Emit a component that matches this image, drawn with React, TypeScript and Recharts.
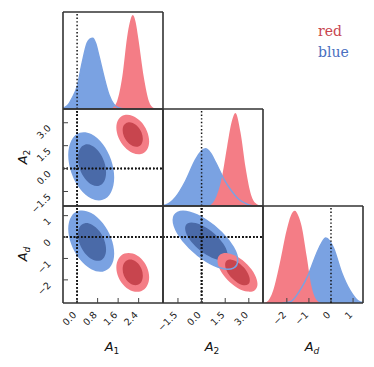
import React from 'react';
import { ComposedChart, XAxis, YAxis, Area, Scatter, Curve } from 'recharts';

const BLUE = '#7aa2e2';
const BLUE_DARK = '#4a6aa8';
const RED = '#f47d86';
const RED_DARK = '#c8454e';
const FRAME = '#333333';

// parameter ranges, ticks and tick labels
const A1_DOMAIN = [-0.55, 3.35];
const A2_DOMAIN = [-2.45, 3.9];
const AD_DOMAIN = [-3.08, 1.45];
const A1_TICKS = [0, 0.8, 1.6, 2.4];
const A2_TICKS = [-1.5, 0, 1.5, 3];
const AD_TICKS = [-2, -1, 0, 1];
const A1_LABELS = ['0.0', '0.8', '1.6', '2.4'];
const A2_LABELS = ['\u22121.5', '0.0', '1.5', '3.0'];
const AD_LABELS = ['\u22122', '\u22121', '0', '1'];

// 1D marginals: [value, relative density]
const a1Blue = [[-0.55, 0.01], [-0.46, 0.02], [-0.33, 0.05], [-0.2, 0.11], [0.0, 0.23], [0.2, 0.48], [0.39, 0.68], [0.5, 0.72], [0.61, 0.73], [0.72, 0.68], [0.85, 0.55], [1.04, 0.34], [1.24, 0.15], [1.43, 0.05], [1.63, 0.01], [1.85, 0]];
const a1Red = [[1.2, 0], [1.37, 0.01], [1.56, 0.08], [1.76, 0.33], [1.95, 0.74], [2.06, 0.9], [2.17, 0.97], [2.28, 0.9], [2.38, 0.74], [2.6, 0.33], [2.8, 0.08], [2.99, 0.01], [3.19, 0]];
const a2Blue = [[-2.45, 0.005], [-2.28, 0.01], [-1.65, 0.09], [-1.01, 0.26], [-0.38, 0.48], [-0.05, 0.56], [0.25, 0.59], [0.55, 0.55], [0.89, 0.45], [1.41, 0.28], [1.84, 0.17], [2.36, 0.07], [2.89, 0.02], [3.3, 0]];
const a2Red = [[0.4, 0], [0.57, 0.01], [0.99, 0.12], [1.31, 0.31], [1.62, 0.61], [1.9, 0.86], [2.15, 0.96], [2.47, 0.76], [2.79, 0.4], [3.1, 0.14], [3.42, 0.03], [3.8, 0]];
const adBlue = [[-2.2, 0], [-1.86, 0.01], [-1.41, 0.13], [-1.03, 0.29], [-0.65, 0.51], [-0.42, 0.62], [-0.24, 0.67], [-0.06, 0.64], [0.11, 0.57], [0.49, 0.31], [0.86, 0.13], [1.32, 0.01], [1.45, 0.005]];
const adRed = [[-3.08, 0], [-2.92, 0.01], [-2.62, 0.13], [-2.32, 0.41], [-2.01, 0.75], [-1.82, 0.9], [-1.64, 0.95], [-1.48, 0.9], [-1.33, 0.79], [-1.1, 0.48], [-0.88, 0.17], [-0.65, 0.03], [-0.45, 0]];

// 2D contours (outer = 95%, inner = 68%), vertices in data units
const a1a2BlueOuter = [[1.49, -0.62], [1.36, 0.59], [1.02, 1.68], [0.55, 2.36], [0.08, 2.45], [-0.26, 1.92], [-0.39, 0.92], [-0.26, -0.29], [0.08, -1.38], [0.55, -2.06], [1.02, -2.15], [1.36, -1.62]];
const a1a2BlueInner = [[1.155, -0.28], [1.08, 0.46], [0.87, 1.13], [0.58, 1.56], [0.29, 1.63], [0.08, 1.32], [0.005, 0.72], [0.08, -0.02], [0.29, -0.69], [0.58, -1.12], [0.87, -1.19], [1.08, -0.88]];
const a1a2RedOuter = [[2.84, 1.75], [2.75, 2.46], [2.51, 3.1], [2.17, 3.5], [1.84, 3.57], [1.59, 3.28], [1.5, 2.71], [1.59, 2.0], [1.84, 1.37], [2.17, 0.96], [2.51, 0.89], [2.75, 1.18]];
const a1a2RedInner = [[2.58, 1.94], [2.53, 2.37], [2.38, 2.77], [2.17, 3.02], [1.97, 3.06], [1.81, 2.88], [1.76, 2.52], [1.81, 2.09], [1.97, 1.7], [2.17, 1.44], [2.38, 1.4], [2.53, 1.58]];

const a1adBlueOuter = [[1.49, -0.79], [1.36, -0.02], [1.02, 0.7], [0.55, 1.19], [0.08, 1.3], [-0.26, 1.02], [-0.39, 0.41], [-0.26, -0.36], [0.08, -1.08], [0.55, -1.57], [1.02, -1.68], [1.36, -1.4]];
const a1adBlueInner = [[1.155, -0.6], [1.08, -0.13], [0.87, 0.32], [0.58, 0.61], [0.29, 0.69], [0.08, 0.51], [0.005, 0.14], [0.08, -0.33], [0.29, -0.78], [0.58, -1.07], [0.87, -1.15], [1.08, -0.97]];
const a1adRedOuter = [[2.84, -1.89], [2.75, -1.4], [2.51, -0.97], [2.17, -0.73], [1.84, -0.73], [1.59, -0.98], [1.5, -1.41], [1.59, -1.9], [1.84, -2.33], [2.17, -2.57], [2.51, -2.57], [2.75, -2.32]];
const a1adRedInner = [[2.58, -1.81], [2.53, -1.48], [2.38, -1.2], [2.17, -1.04], [1.97, -1.04], [1.81, -1.21], [1.76, -1.49], [1.81, -1.82], [1.97, -2.1], [2.17, -2.26], [2.38, -2.26], [2.53, -2.09]];

const a2adBlueOuter = [[2.39, -1.14], [2.1, -0.5], [1.32, 0.23], [0.25, 0.86], [-0.82, 1.22], [-1.6, 1.21], [-1.89, 0.84], [-1.6, 0.2], [-0.82, -0.53], [0.25, -1.16], [1.32, -1.52], [2.1, -1.51]];
const a2adBlueInner = [[1.71, -0.84], [1.52, -0.43], [1.01, 0.05], [0.3, 0.46], [-0.41, 0.69], [-0.92, 0.69], [-1.11, 0.44], [-0.92, 0.03], [-0.41, -0.45], [0.3, -0.86], [1.01, -1.09], [1.52, -1.09]];
const a2adRedOuter = [[3.61, -2.22], [3.43, -1.76], [2.95, -1.28], [2.28, -0.89], [1.62, -0.71], [1.13, -0.78], [0.95, -1.08], [1.13, -1.54], [1.62, -2.02], [2.28, -2.41], [2.95, -2.59], [3.43, -2.52]];
const a2adRedInner = [[3.1, -2.03], [2.99, -1.73], [2.69, -1.4], [2.28, -1.15], [1.87, -1.03], [1.57, -1.07], [1.46, -1.27], [1.57, -1.58], [1.87, -1.9], [2.28, -2.15], [2.69, -2.28], [2.99, -2.23]];

type Ax = { domain: number[]; ticks: number[]; labels: string[] };
const A1: Ax = { domain: A1_DOMAIN, ticks: A1_TICKS, labels: A1_LABELS };
const A2: Ax = { domain: A2_DOMAIN, ticks: A2_TICKS, labels: A2_LABELS };
const AD: Ax = { domain: AD_DOMAIN, ticks: AD_TICKS, labels: AD_LABELS };
const DENS: Ax = { domain: [0, 1], ticks: [], labels: [] };

const PW = 100;
const PH = 97;
const COL_X = [63, 163, 263];
const ROW_Y = [12, 109, 206];

type Row = { x: number; y: number };
// stable rows so the series are not re-registered on every render
const cache = new Map<unknown, Row[]>();
const memo = (key: unknown, make: () => Row[]) => {
  if (!cache.has(key)) cache.set(key, make());
  return cache.get(key)!;
};
const pts = (a: number[][]) => memo(a, () => a.map(([x, y]) => ({ x, y })));
// dotted markers at 0: a vertical and a horizontal segment across the panel
const zeroLines = (x: Ax, y: Ax) => [[0, y.domain[0]], [0, y.domain[1]], [x.domain[0], 0], [x.domain[1], 0]];

const noDot = () => <g />;
const tickFont = { fontFamily: 'DejaVu Sans', fontSize: 9.5, fill: '#222' };
const dotted = { stroke: '#111', strokeWidth: 1.5, strokeDasharray: '1.4 2.2' };

const area = (d: number[][], color: string, z: number) => (
  <Area xAxisId="b" yAxisId="l" data={pts(d)} dataKey="y" type="monotone" fill={color} fillOpacity={1} stroke="none" isAnimationActive={false} zIndex={z} />
);
const areaLine = (d: number[][], color: string) => (
  <Area xAxisId="b" yAxisId="l" data={pts(d)} dataKey="y" type="monotone" fill="none" fillOpacity={0} stroke={color} strokeWidth={1.4} isAnimationActive={false} zIndex={130} />
);
const vSeg = (o: Ax) => memo(`v${o.domain}`, () => [{ x: 0, y: o.domain[0] }, { x: 0, y: o.domain[1] }]);
const seg = (rows: Row[]) => (
  <Scatter xAxisId="b" yAxisId="l" data={rows} line={dotted} shape={noDot} isAnimationActive={false} zIndex={700} />
);

// filled contour; the panel's dotted zero lines ride along so they stay above every fill
const blob = (d: number[][], color: string, x: Ax, y: Ax, z: number) => {
  const n = d.length;
  const rows = memo(d, () => [...d, ...zeroLines(x, y)].map(([a, b]) => ({ x: a, y: b })));
  const draw = (p: any) => {
    const P = p.points as { x: number; y: number }[];
    const s = P.slice(n);
    return (
      <g>
        <Curve points={P.slice(0, n)} type="basisClosed" fill={color} stroke="none" />
        <line x1={s[0].x} y1={s[0].y} x2={s[1].x} y2={s[1].y} {...dotted} />
        <line x1={s[2].x} y1={s[2].y} x2={s[3].x} y2={s[3].y} {...dotted} />
      </g>
    );
  };
  return <Scatter xAxisId="b" yAxisId="l" data={rows} line={draw} shape={noDot} isAnimationActive={false} zIndex={z} />;
};
const blobLine = (d: number[][], color: string, x: Ax, y: Ax) => {
  const n = d.length;
  const rows = memo(`line${d}`, () => [...d, ...zeroLines(x, y)].map(([a, b]) => ({ x: a, y: b })));
  const draw = (p: any) => {
    const P = p.points as { x: number; y: number }[];
    const s = P.slice(n);
    return (
      <g>
        <Curve points={P.slice(0, n)} type="basisClosed" fill="none" stroke={color} strokeWidth={1.6} />
        <line x1={s[0].x} y1={s[0].y} x2={s[1].x} y2={s[1].y} {...dotted} />
        <line x1={s[2].x} y1={s[2].y} x2={s[3].x} y2={s[3].y} {...dotted} />
      </g>
    );
  };
  return <Scatter xAxisId="b" yAxisId="l" data={rows} line={draw} shape={noDot} isAnimationActive={false} zIndex={150} />;
};

function Panel({ col, row, x, y, diag, children }: { col: number; row: number; x: Ax; y: Ax; diag?: boolean; children?: React.ReactNode }) {
  const m = { top: 4, right: 4, bottom: row === 2 ? 60 : 24, left: col === 0 ? 62 : 24 };
  const showX = row === 2;
  const showY = col === 0 && !diag;
  const bottomY = m.top + PH;
  const xTick = (p: any) => {
    const i = x.ticks.indexOf(p.payload.value);
    const ax = p.x;
    const ay = bottomY + 12.5;
    return <text x={ax} y={ay} transform={`rotate(-45 ${ax} ${ay})`} textAnchor="end" {...tickFont}>{x.labels[i]}</text>;
  };
  const yTick = (p: any) => {
    const i = y.ticks.indexOf(p.payload.value);
    const ax = m.left - 11.5;
    const ay = p.y + 6;
    return <text x={ax} y={ay} transform={`rotate(-45 ${ax} ${ay})`} textAnchor="end" {...tickFont}>{y.labels[i]}</text>;
  };
  const frame = { stroke: FRAME, strokeWidth: 1.6 };
  const tl = { stroke: '#444', strokeWidth: 1 };
  const yTicks = y.ticks.length ? y.ticks : undefined;
  return (
    <div style={{ position: 'absolute', left: COL_X[col] - m.left, top: ROW_Y[row] - m.top }}>
      <ComposedChart width={PW + m.left + m.right} height={PH + m.top + m.bottom} margin={m}>
        <XAxis xAxisId="b" orientation="bottom" mirror type="number" dataKey="x" domain={x.domain} ticks={x.ticks} allowDataOverflow interval={0} tickSize={5} tickLine={tl} axisLine={frame} tick={showX ? xTick : false} />
        <XAxis xAxisId="t" orientation="top" mirror type="number" dataKey="x" domain={x.domain} ticks={x.ticks} allowDataOverflow interval={0} tickSize={5} tickLine={diag ? false : tl} axisLine={frame} tick={false} />
        <YAxis yAxisId="l" orientation="left" mirror type="number" dataKey="y" domain={y.domain} ticks={yTicks} allowDataOverflow interval={0} tickSize={5} tickLine={diag ? false : tl} axisLine={frame} tick={showY ? yTick : false} />
        <YAxis yAxisId="r" orientation="right" mirror type="number" dataKey="y" domain={y.domain} ticks={yTicks} allowDataOverflow interval={0} tickSize={5} tickLine={diag ? false : tl} axisLine={frame} tick={false} />
        {children}
      </ComposedChart>
    </div>
  );
}

const title = { fontFamily: 'DejaVu Sans', fontSize: 13, fill: '#111' };

export default function App() {
  return (
    <div style={{ position: 'absolute', left: 0, top: 0, width: 374, height: 367, background: '#fff', overflow: 'hidden' }}>
      <svg width={374} height={367} style={{ position: 'absolute', left: 0, top: 0 }}>
        <text x={112} y={351} textAnchor="middle" {...title}><tspan fontStyle="italic">A</tspan><tspan fontSize={9} dy={3}>1</tspan></text>
        <text x={212} y={351} textAnchor="middle" {...title}><tspan fontStyle="italic">A</tspan><tspan fontSize={9} dy={3}>2</tspan></text>
        <text x={312} y={351} textAnchor="middle" {...title}><tspan fontStyle="italic">A</tspan><tspan fontSize={9} dy={3} fontStyle="italic">d</tspan></text>
        <text x={27} y={157} textAnchor="middle" transform="rotate(-90 27 157)" {...title}><tspan fontStyle="italic">A</tspan><tspan fontSize={9} dy={3}>2</tspan></text>
        <text x={27} y={254} textAnchor="middle" transform="rotate(-90 27 254)" {...title}><tspan fontStyle="italic">A</tspan><tspan fontSize={9} dy={3} fontStyle="italic">d</tspan></text>
        <text x={318} y={36} fontFamily="DejaVu Serif" fontSize={14} fill="#c8454e">red</text>
        <text x={318} y={57} fontFamily="DejaVu Serif" fontSize={14} fill="#4a6fbf">blue</text>
      </svg>

      <Panel col={0} row={0} x={A1} y={DENS} diag>
        {area(a1Blue, BLUE, 110)}
        {area(a1Red, RED, 120)}
        {areaLine(a1Blue, BLUE)}
        {seg(vSeg(DENS))}
      </Panel>

      <Panel col={0} row={1} x={A1} y={A2}>
        {blob(a1a2BlueOuter, BLUE, A1, A2, 110)}
        {blob(a1a2BlueInner, BLUE_DARK, A1, A2, 120)}
        {blob(a1a2RedOuter, RED, A1, A2, 130)}
        {blob(a1a2RedInner, RED_DARK, A1, A2, 140)}
      </Panel>

      <Panel col={1} row={1} x={A2} y={DENS} diag>
        {area(a2Blue, BLUE, 110)}
        {area(a2Red, RED, 120)}
        {areaLine(a2Blue, BLUE)}
        {seg(vSeg(DENS))}
      </Panel>

      <Panel col={0} row={2} x={A1} y={AD}>
        {blob(a1adBlueOuter, BLUE, A1, AD, 110)}
        {blob(a1adBlueInner, BLUE_DARK, A1, AD, 120)}
        {blob(a1adRedOuter, RED, A1, AD, 130)}
        {blob(a1adRedInner, RED_DARK, A1, AD, 140)}
      </Panel>

      <Panel col={1} row={2} x={A2} y={AD}>
        {blob(a2adBlueOuter, BLUE, A2, AD, 110)}
        {blob(a2adBlueInner, BLUE_DARK, A2, AD, 120)}
        {blob(a2adRedOuter, RED, A2, AD, 130)}
        {blob(a2adRedInner, RED_DARK, A2, AD, 140)}
        {blobLine(a2adBlueOuter, BLUE, A2, AD)}
      </Panel>

      <Panel col={2} row={2} x={AD} y={DENS} diag>
        {area(adBlue, BLUE, 110)}
        {area(adRed, RED, 120)}
        {areaLine(adBlue, BLUE)}
        {seg(vSeg(DENS))}
      </Panel>
    </div>
  );
}
